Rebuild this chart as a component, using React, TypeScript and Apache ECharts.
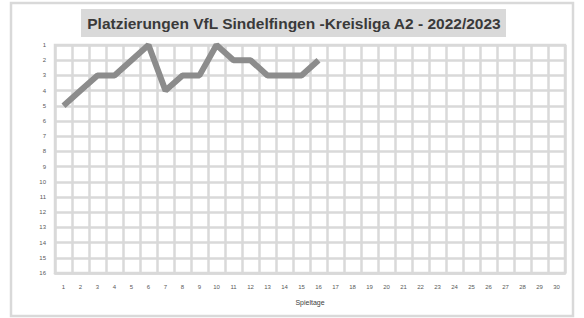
import React, { useEffect, useRef } from "react";
import * as echarts from "echarts";

const matchdays: string[] = Array.from({ length: 30 }, (_, i) => String(i + 1));
const placements: number[] = [5, 4, 3, 3, 2, 1, 4, 3, 3, 1, 2, 2, 3, 3, 3, 2];
const titleText = "Platzierungen VfL Sindelfingen -Kreisliga A2 - 2022/2023";
const xAxisName = "Spieltage";
const rankMin = 1;
const rankMax = 16;

const GRID = "#d9d9d9";
const FONT = "Liberation Sans";

export default function App() {
  const ref = useRef<HTMLDivElement>(null);
  useEffect(() => {
    if (!ref.current) return;
    const chart = echarts.init(ref.current, null, { renderer: "svg" });
    chart.setOption({
      animation: false,
      backgroundColor: "#ffffff",
      grid: {
        left: 55,
        right: 19,
        top: 45,
        bottom: 45,
        show: true,
        borderColor: GRID,
        borderWidth: 2.5,
      },
      xAxis: {
        type: "category",
        data: matchdays,
        boundaryGap: true,
        name: xAxisName,
        nameLocation: "middle",
        nameGap: 26,
        nameTextStyle: { fontSize: 7, color: "#404040", fontFamily: FONT },
        axisLine: { show: true, lineStyle: { color: GRID, width: 2.5 } },
        axisTick: { show: false },
        axisLabel: { interval: 0, fontSize: 6, color: "#595959", margin: 11, fontFamily: FONT },
        splitLine: { show: true, interval: 0, lineStyle: { color: GRID, width: 2.5 } },
      },
      yAxis: {
        type: "value",
        inverse: true,
        min: rankMin,
        max: rankMax,
        interval: 1,
        axisLine: { show: false },
        axisTick: { show: false },
        axisLabel: { fontSize: 6, color: "#595959", margin: 9, fontFamily: FONT },
        splitLine: { show: true, lineStyle: { color: GRID, width: 2.5 } },
      },
      graphic: [
        {
          type: "rect",
          shape: { x: 11, y: 3, width: 562, height: 313 },
          style: { fill: "none", stroke: GRID, lineWidth: 2.5 },
          z: -1,
        },
        {
          type: "rect",
          shape: { x: 81, y: 9, width: 425, height: 28 },
          style: { fill: GRID },
        },
        {
          type: "text",
          x: 294,
          y: 23,
          style: {
            text: titleText,
            fontSize: 15.5,
            fontWeight: "bold",
            fontFamily: FONT,
            fill: "#3a3a3a",
            align: "center",
            verticalAlign: "middle",
          },
        },
      ],
      series: [
        {
          type: "line",
          data: placements,
          symbol: "none",
          lineStyle: { color: "#8c8c8c", width: 6 },
        },
      ],
    });
    return () => chart.dispose();
  }, []);
  return (
    <div
      ref={ref}
      style={{ position: "fixed", left: 0, top: 0, width: 584, height: 318 }}
    />
  );
}
